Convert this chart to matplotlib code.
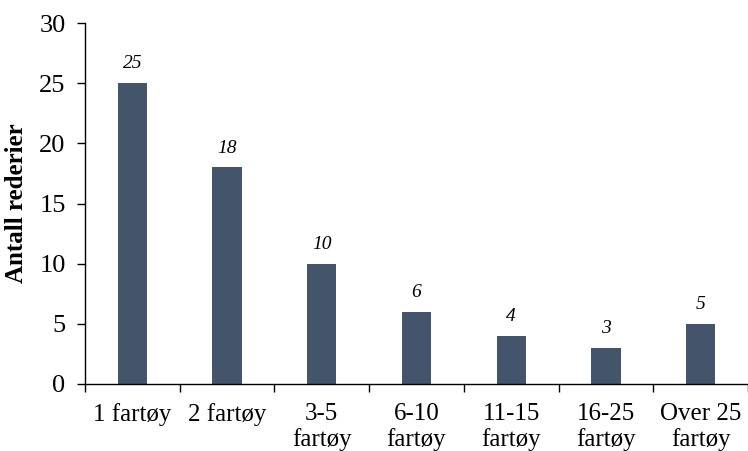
import matplotlib
matplotlib.use("Agg")
import matplotlib.pyplot as plt
import numpy as np

categories = ["1 fartøy", "2 fartøy", "3-5\nfartøy", "6-10\nfartøy",
              "11-15\nfartøy", "16-25\nfartøy", "Over 25\nfartøy"]
values = [25, 18, 10, 6, 4, 3, 5]
yticks = [0, 5, 10, 15, 20, 25, 30]

plt.rcParams["font.family"] = ["Liberation Serif", "DejaVu Serif"]

fig = plt.figure(figsize=(7.48, 4.51), dpi=100)
ax = fig.add_axes([85 / 748, 1 - 384 / 451, 1 - 85 / 748, (384 - 23) / 451])

x = np.arange(len(categories))
ax.bar(x, values, width=0.31, color="#44546A", zorder=2)

for xi, v in zip(x, values):
    ax.text(xi, v + 0.9, str(v), ha="center", va="bottom",
            fontsize=14, style="italic", color="#000000")

ax.set_xlim(-0.5, len(categories) - 0.5)
ax.set_ylim(0, 30)
ax.set_yticks(yticks)
ax.set_yticklabels([str(t) for t in yticks], fontsize=19)

# category labels centred, tick marks at category boundaries
ax.set_xticks(x)
ax.set_xticklabels(categories, fontsize=18, linespacing=1.15)
ax.tick_params(axis="x", which="major", length=0, pad=14)
ax.set_xticks(np.arange(-0.5, len(categories) + 0.5, 1), minor=True)
ax.tick_params(axis="x", which="minor", length=6, width=1, direction="out")
ax.tick_params(axis="y", length=6, width=1, direction="out", pad=8)

for side in ("top", "right"):
    ax.spines[side].set_visible(False)
for side in ("left", "bottom"):
    ax.spines[side].set_linewidth(1)
    ax.spines[side].set_color("black")

ax.set_ylabel("Antall rederier", fontsize=18, fontweight="bold", labelpad=8)

fig.savefig("out.png", dpi=100)
